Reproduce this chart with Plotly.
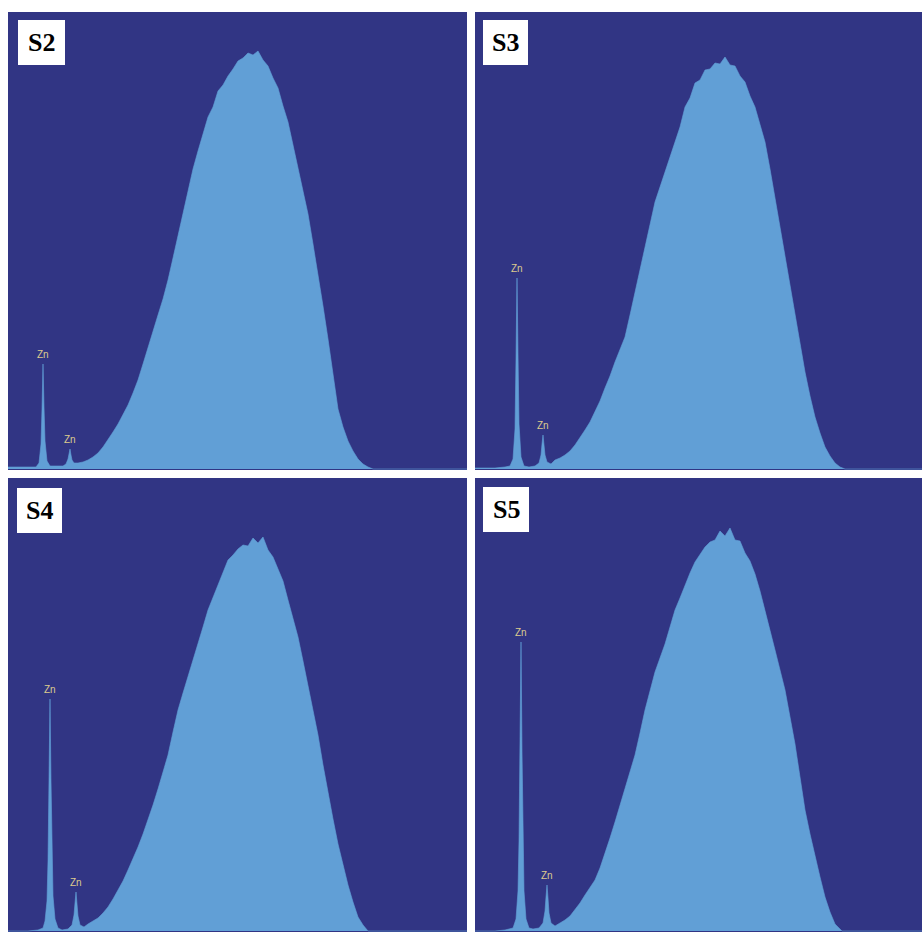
import plotly.graph_objects as go

# ---------------- data ----------------
panel_names = ["S2", "S3", "S4", "S5"]

# S2
s2_energy = [0, 10, 20, 28, 31, 33, 34, 35, 36, 37, 39, 42, 48, 55, 58, 60, 61, 62, 63, 64, 66, 70,
             75, 80, 85, 90, 95, 100, 105, 110, 115, 120, 125, 130, 135, 140, 145, 150, 155, 160, 165,
             170, 175, 180, 185, 190, 195, 200, 205, 210, 215, 220, 225, 230, 235, 240, 245, 250, 255,
             260, 265, 270, 275, 280, 285, 290, 295, 300, 305, 310, 315, 320, 325, 330, 335, 340, 345,
             350, 355, 360, 365, 459]
s2_counts = [2, 2, 2, 2, 6, 25, 60, 105, 62, 28, 8, 3, 3, 3, 5, 10, 15, 20, 14, 9, 6, 6,
             7, 9, 12, 16, 22, 29, 37, 45, 54, 64, 76, 89, 105, 122, 138, 154, 170, 189, 211,
             234, 257, 279, 300, 318, 336, 352, 362, 378, 384, 393, 400, 408, 411, 416, 414, 418, 409,
             403, 391, 381, 363, 347, 324, 300, 278, 255, 225, 195, 163, 130, 96, 60, 42, 28, 18,
             10, 5, 2, 0, 0]
s2_zn = [(35, 105), (62, 20)]

# S3
s3_energy = [0, 10, 20, 30, 35, 38, 40, 41, 42, 43, 44, 46, 49, 54, 60, 64, 66, 67, 68, 69, 70, 72, 76,
             80, 85, 90, 95, 100, 105, 110, 115, 120, 125, 130, 135, 140, 145, 150, 155, 160, 165, 170,
             175, 180, 185, 190, 195, 200, 205, 210, 215, 220, 225, 230, 235, 240, 245, 250, 255, 260,
             265, 270, 275, 280, 285, 290, 295, 300, 305, 310, 315, 320, 325, 330, 335, 340, 345, 350,
             355, 360, 365, 370, 448]
s3_counts = [1, 1, 1, 2, 3, 10, 40, 110, 191, 115, 45, 12, 3, 2, 3, 6, 14, 25, 34, 24, 14, 7, 5,
             9, 11, 14, 18, 24, 31, 39, 47, 57, 68, 81, 93, 107, 119, 132, 154, 177, 200, 224,
             246, 267, 282, 297, 312, 327, 342, 362, 371, 386, 389, 399, 400, 406, 405, 412, 404, 403,
             393, 387, 373, 362, 344, 327, 300, 271, 241, 211, 181, 151, 124, 97, 73, 52, 36, 22,
             13, 6, 2, 0, 0]
s3_zn = [(42, 191), (68, 34)]

# S4
s4_energy = [0, 10, 20, 30, 35, 37, 39, 40, 41, 42, 43, 44, 45, 47, 50, 54, 60, 64, 66, 67, 68, 69, 70, 72, 76,
             80, 85, 90, 95, 100, 105, 110, 115, 120, 125, 130, 135, 140, 145, 150, 155, 160, 165, 170,
             175, 180, 185, 190, 195, 200, 205, 210, 215, 220, 225, 230, 235, 240, 245, 250, 255, 260,
             265, 270, 275, 280, 285, 290, 295, 300, 305, 310, 315, 320, 325, 330, 335, 340, 345, 350,
             355, 360, 460]
s4_counts = [0, 0, 0, 1, 3, 10, 30, 70, 140, 232, 150, 75, 35, 12, 3, 1, 2, 6, 16, 28, 39, 27, 15, 6, 4,
             7, 10, 13, 18, 24, 32, 41, 50, 61, 72, 84, 97, 111, 126, 142, 159, 176, 199, 221,
             238, 254, 271, 287, 304, 321, 334, 347, 359, 371, 376, 382, 386, 385, 393, 388, 394, 381,
             374, 362, 350, 331, 313, 294, 270, 246, 221, 196, 166, 137, 112, 87, 66, 46, 29, 14,
             6, 0, 0]
s4_zn = [(42, 232), (68, 39)]

# S5
s5_energy = [0, 10, 20, 30, 38, 41, 43, 44, 45, 46, 47, 48, 49, 51, 54, 58, 64, 68, 70, 71, 72, 73, 74, 76, 80,
             85, 90, 95, 100, 105, 110, 115, 120, 125, 130, 135, 140, 145, 150, 155, 160, 165, 170, 175,
             180, 185, 190, 195, 200, 205, 210, 215, 220, 225, 230, 235, 240, 245, 250, 255, 260, 265,
             270, 275, 280, 285, 290, 295, 300, 305, 310, 315, 320, 325, 330, 335, 340, 345, 350, 355,
             360, 367, 448]
s5_counts = [0, 0, 0, 1, 3, 12, 40, 90, 170, 289, 180, 90, 40, 12, 3, 2, 3, 8, 20, 34, 46, 33, 18, 8, 5,
             8, 11, 15, 21, 28, 36, 43, 51, 63, 77, 93, 109, 126, 142, 159, 176, 198, 221, 240,
             259, 273, 287, 304, 321, 333, 346, 358, 369, 377, 384, 389, 391, 400, 395, 403, 391, 390,
             378, 370, 357, 340, 321, 301, 281, 261, 241, 214, 187, 154, 121, 97, 74, 54, 34, 19,
             7, 0, 0]
s5_zn = [(46, 289), (72, 46)]

zn_label = "Zn"

# ---------------- layout constants (pixels) ----------------
W, H = 922, 932
BG = "#313584"
FILL = "#619fd6"
ZN_COL = "#ddcb8e"

# panel boxes: (left, top, right, bottom) in page pixels
panels = [(8, 12, 467, 470), (475, 12, 922, 470), (8, 478, 467, 932), (475, 478, 922, 932)]
# y range per panel (count units)
yranges = [[-1, 457], [-1, 457], [-1, 453], [-1, 453]]
# label boxes (page pixels)
label_boxes = [(18, 20, 65, 65), (483, 20, 528, 65), (17, 488, 62, 533), (483, 487, 529, 532)]

energies = [s2_energy, s3_energy, s4_energy, s5_energy]
counts = [s2_counts, s3_counts, s4_counts, s5_counts]
zns = [s2_zn, s3_zn, s4_zn, s5_zn]

fig = go.Figure()
layout = dict(
    width=W, height=H, margin=dict(l=0, r=0, t=0, b=0),
    paper_bgcolor="white", plot_bgcolor=BG, showlegend=False,
)
shapes = []
annotations = []

for i in range(4):
    l, t, r, b = panels[i]
    xa = "xaxis" if i == 0 else f"xaxis{i+1}"
    ya = "yaxis" if i == 0 else f"yaxis{i+1}"
    xr = "x" if i == 0 else f"x{i+1}"
    yr = "y" if i == 0 else f"y{i+1}"
    layout[xa] = dict(domain=[l / W, r / W], range=[0, r - l], visible=False,
                      showgrid=False, zeroline=False, anchor=yr, fixedrange=True)
    layout[ya] = dict(domain=[1 - b / H, 1 - t / H], range=yranges[i], visible=False,
                      showgrid=False, zeroline=False, anchor=xr, fixedrange=True)
    fig.add_trace(go.Scatter(
        x=energies[i], y=counts[i], mode="lines", fill="tozeroy",
        fillcolor=FILL, line=dict(width=0.6, color=FILL, shape="linear"),
        xaxis=xr, yaxis=yr, hoverinfo="skip",
    ))
    for (ex, cy) in zns[i]:
        annotations.append(dict(
            x=ex, y=cy, xref=xr, yref=yr, text=zn_label, showarrow=False,
            yanchor="bottom", xanchor="center", yshift=2,
            font=dict(family="Liberation Sans, Arial", size=10, color=ZN_COL),
        ))
    bl, bt, br, bb = label_boxes[i]
    shapes.append(dict(type="rect", xref="paper", yref="paper",
                       x0=bl / W, x1=br / W, y0=1 - bb / H, y1=1 - bt / H,
                       fillcolor="white", line=dict(width=0)))
    annotations.append(dict(
        x=(bl + br) / 2 / W, y=1 - (bt + bb) / 2 / H, xref="paper", yref="paper",
        text=f"<b>{panel_names[i]}</b>", showarrow=False, xanchor="center", yanchor="middle",
        font=dict(family="Liberation Serif, Times New Roman", size=26, color="black"),
    ))

layout["shapes"] = shapes
layout["annotations"] = annotations
fig.update_layout(**layout)
fig.write_html("out.html")
